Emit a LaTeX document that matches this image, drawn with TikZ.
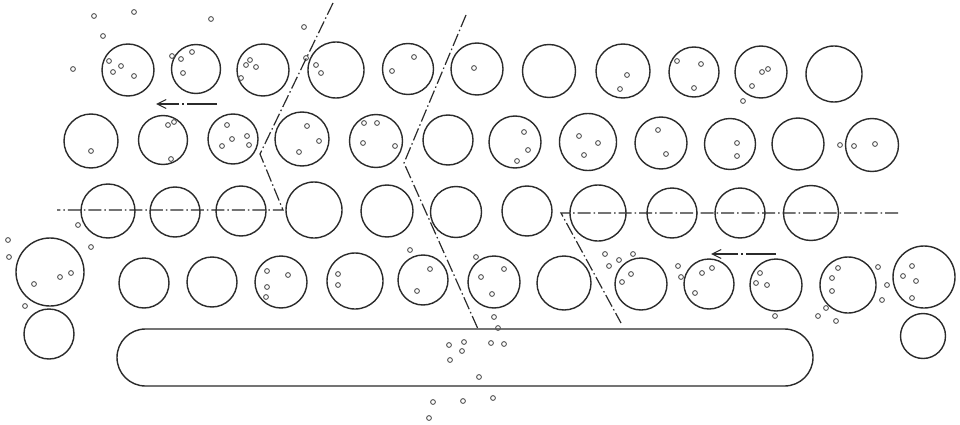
\documentclass[tikz,border=0pt]{standalone}
\usetikzlibrary{arrows.meta,shapes.misc}
\definecolor{ink}{HTML}{2B2B2B}
\definecolor{dotink}{HTML}{555555}
\tikzset{
  roll/.style={draw=ink,circle,line width=1.4pt,inner sep=0pt,minimum size=#1},
  bubble/.style={draw=dotink,circle,line width=0.9pt,inner sep=0pt,minimum size=4.8pt},
  axisline/.style={draw=ink,line width=1.2pt,dash pattern=on 13pt off 3pt on 1.5pt off 3pt},
  flowarrow/.style={draw=ink,line width=1.4pt,dash pattern=on 30pt off 3pt on 2pt off 3pt,
    -{Straight Barb[length=9pt,width=9pt,line width=1.1pt]}},
}
\begin{document}
\begin{tikzpicture}[x=1pt,y=-1pt]
\useasboundingbox (0,0) rectangle (960,425);
\fill[white] (0,0) rectangle (960,425);
% rolls
\foreach \x/\y/\r [count=\i] in {
  128/70/26,196/69/24.5,263/70/26,336/70/28,408/69/25.5,477/69/26,549/71/26.5,623/71/27,694/72/25,761/72/26,834/74/28,
  91/141/27,163/140/24.5,233/139/25,302/139/27,376/141/26.5,448/140/25,515/142/26,588/142/28.5,661/143/26,730/144/25.5,798/144/26,872/145/26.5,
  108/211/27,175/212/25,241/211/25,314/210/28,387/211/26,456/212/25.5,527/211/25,598/213/28,672/213/25,740/213/25,811/213/27.5,
  50/272/34,49/334/25,144/283/25,212/282/25,281/282/26,355/281/28,423/280/25,494/282/26,564/283/27,641/284/26,709/284/25,776/285/26,848/285/28,924/277/31,923/336/22.5}
  \node[roll=2*\r pt] (roll\i) at (\x,\y) {};
% belt
\node[draw=ink,line width=1.4pt,rounded rectangle,minimum width=696pt,minimum height=57pt,inner sep=0pt] (belt) at (465,357.5) {};
% bubbles
\foreach \x/\y [count=\i] in {
  94/16,134/12,103/36,211/19,73/69,109/61,121/66,113/72,134/76,172/56,181/59,192/52,183/73,
  250/60,246/65,256/67,241/78,304/27,306/58,316/65,321/73,392/71,414/57,474/68,
  91/151,168/125,174/122,171/159,227/125,232/139,247/136,249/145,222/146,307/126,319/141,299/152,
  364/123,377/123,363/143,395/146,517/161,
  627/75,620/89,677/61,701/64,694/88,762/72,768/69,752/86,743/101,
  524/132,528/150,579/136,598/143,584/155,658/130,666/154,737/143,737/156,840/145,854/146,875/144,
  8/240,9/257,78/225,91/247,25/306,34/284,60/277,71/273,
  267/271,288/275,267/287,266/297,338/274,338/285,410/250,430/269,417/291,
  476/257,504/269,481/277,492/294,494/317,498/328,
  449/345,464/342,462/351,450/360,491/343,504/344,479/377,433/402,463/401,493/398,429/418,
  605/254,619/260,633/254,609/266,631/274,622/282,
  678/266,681/277,702/273,712/268,695/293,
  760/273,756/283,767/285,775/316,
  838/268,832/278,832/291,826/308,818/316,836/321,
  878/267,887/285,882/300,912/266,903/276,916/281,912/298}
  \node[bubble] (b\i) at (\x,\y) {};
% section lines
\coordinate (a1) at (333,3); \coordinate (a2) at (260,154); \coordinate (a3) at (283,210); \coordinate (a4) at (57,210);
\coordinate (c1) at (466,15); \coordinate (c2) at (404,163); \coordinate (c3) at (478,329);
\coordinate (d1) at (898,213); \coordinate (d2) at (561,213); \coordinate (d3) at (621,323);
\draw[axisline] (a1) -- (a2) -- (a3) -- (a4);
\draw[axisline] (c1) -- (c2) -- (c3);
\draw[axisline] (d1) -- (d2) -- (d3);
% flow arrows
\coordinate (f1s) at (217,104); \coordinate (f1e) at (156,104);
\coordinate (f2s) at (776,254); \coordinate (f2e) at (711,254);
\draw[flowarrow] (f1s) -- (f1e);
\draw[flowarrow] (f2s) -- (f2e);
\end{tikzpicture}
\end{document}
